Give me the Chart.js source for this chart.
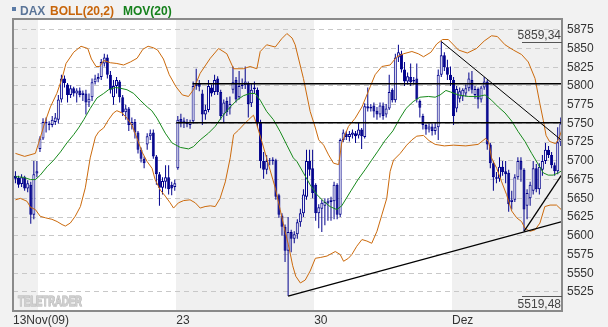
<!DOCTYPE html>
<html><head><meta charset="utf-8">
<script src="https://cdn.jsdelivr.net/npm/chart.js@4.4.1/dist/chart.umd.min.js"></script>
<style>html,body{margin:0;padding:0;background:#f2f2f2;overflow:hidden}</style>
</head><body>
<canvas id="c" width="608" height="327"></canvas>
<script>
// ---- DATA (hourly DAX candles, 13 Nov 2009 - 10 Dec 2009) ----
const opens = [5680,5677,5669,5678,5663,5668,5628,5683,
5716,5730,5752,5750,5748,5752,5755,5782,5810,
5802,5788,5797,5790,5794,5788,5790,5778,5785,
5805,5809,5812,5830,5838,5815,5785,5800,5806,
5785,5765,5770,5748,5752,5738,5715,5703,5722,
5733,5738,5706,5682,5664,5672,5678,5668,5665,
5690,5756,5751,5752,5748,5753,5800,5803,5790,
5762,5768,5798,5792,5810,5792,5762,5780,5770,
5795,5808,5785,5800,5801,5804,5777,5796,5795,
5752,5700,5688,5700,5700,5701,5654,5627,5612,
5580,5605,5596,5602,5618,5630,5652,5700,5690,
5668,5630,5636,5640,5643,5645,5646,5668,5628,
5728,5736,5732,5735,5737,5734,5742,5732,5773,
5770,5774,5767,5762,5774,5762,5770,5795,5781,
5838,5843,5822,5806,5812,5806,5810,5780,5760,
5748,5742,5746,5740,5745,5815,5841,5825,5815,
5808,5770,5783,5786,5790,5797,5808,5788,5796,
5782,5798,5806,5722,5697,5678,5676,5692,5686,
5684,5645,5648,5678,5700,5688,5640,5650,5660,
5690,5662,5688,5700,5715,5708,5694,5686,5725];
const highs = [5686,5680,5682,5680,5674,5672,5700,5700,
5733,5757,5758,5753,5760,5764,5788,5815,5814,
5804,5801,5799,5797,5798,5794,5795,5790,5810,
5815,5817,5836,5843,5842,5820,5808,5812,5808,
5788,5775,5772,5758,5756,5740,5718,5706,5737,
5742,5742,5708,5685,5678,5694,5694,5672,5675,
5760,5763,5758,5756,5755,5806,5823,5808,5795,
5775,5808,5802,5815,5813,5795,5782,5785,5786,
5826,5812,5820,5810,5826,5806,5803,5806,5798,
5755,5712,5708,5704,5705,5703,5656,5630,5615,
5625,5608,5606,5622,5636,5662,5715,5715,5715,
5670,5642,5648,5650,5650,5652,5672,5670,5730,
5742,5740,5740,5742,5740,5752,5744,5777,5798,
5776,5778,5772,5778,5778,5776,5815,5797,5843,
5855,5847,5832,5818,5830,5812,5830,5782,5763,
5750,5750,5750,5752,5822,5859.34,5845,5835,5826,
5812,5800,5798,5797,5802,5818,5820,5800,5798,
5800,5812,5808,5724,5700,5685,5705,5700,5700,
5688,5660,5682,5705,5705,5690,5662,5672,5700,
5696,5697,5708,5724,5720,5712,5698,5745,5758];
const lows = [5670,5664,5665,5660,5658,5616,5622,5678,
5712,5728,5738,5741,5745,5748,5750,5778,5798,
5778,5784,5786,5778,5785,5780,5762,5772,5780,
5802,5805,5808,5826,5810,5790,5775,5790,5778,
5760,5755,5740,5742,5730,5710,5698,5690,5715,
5728,5703,5668,5640,5655,5663,5655,5654,5660,
5688,5745,5744,5745,5743,5750,5795,5793,5748,
5755,5765,5786,5788,5788,5755,5752,5760,5762,
5790,5778,5782,5796,5796,5758,5772,5790,5745,
5690,5676,5682,5694,5695,5648,5624,5600,5565,
5519.48,5578,5590,5596,5612,5625,5648,5680,5650,
5620,5610,5605,5614,5620,5620,5622,5622,5625,
5725,5728,5726,5730,5724,5730,5716,5730,5766,
5766,5758,5755,5758,5755,5758,5768,5778,5778,
5832,5818,5800,5802,5800,5802,5778,5758,5742,
5735,5738,5734,5735,5728,5812,5820,5808,5800,
5748,5765,5778,5780,5786,5793,5790,5783,5770,
5778,5795,5715,5690,5660,5670,5672,5680,5670,
5632,5635,5645,5675,5672,5606,5622,5640,5655,
5658,5655,5680,5696,5704,5690,5680,5682,5720];
const closes = [5676,5668,5678,5663,5670,5628,5682,5686,
5730,5752,5750,5748,5755,5758,5782,5810,5804,
5788,5797,5790,5794,5788,5791,5778,5783,5805,
5810,5812,5832,5838,5815,5795,5800,5808,5785,
5765,5770,5748,5752,5738,5715,5703,5697,5733,
5737,5706,5682,5664,5673,5678,5662,5663,5670,
5755,5750,5754,5749,5752,5800,5803,5799,5762,
5768,5800,5790,5808,5792,5760,5778,5765,5776,
5805,5782,5800,5802,5806,5776,5795,5798,5752,
5700,5688,5700,5701,5702,5652,5628,5612,5580,
5605,5596,5602,5618,5630,5655,5700,5688,5657,
5630,5638,5644,5645,5646,5648,5668,5628,5728,
5738,5732,5736,5738,5733,5742,5733,5773,5770,
5772,5766,5762,5774,5760,5770,5792,5781,5838,
5845,5822,5806,5813,5805,5808,5782,5771,5748,
5742,5746,5740,5745,5815,5841,5825,5815,5808,
5760,5796,5793,5795,5797,5810,5795,5796,5782,
5798,5806,5722,5697,5678,5676,5692,5685,5682,
5642,5648,5678,5700,5688,5635,5657,5668,5690,
5662,5692,5700,5715,5708,5694,5686,5725,5750];

// Bollinger (20,2) bands and MOV(20) as [candle index, value]
const bollUpper = [[0,5710],[3,5706],[6.5,5710],[7.5,5723],[9.5,5750],[11.4,5772],[13.5,5790],[15.2,5810],[16.5,5830],[19,5845],[21.4,5853],[23.6,5850],[24.8,5836],[26.3,5826],[27.5,5826],[28.8,5834],[31,5831],[33.1,5830],[35.3,5828],[37.5,5832],[39.7,5837],[41.6,5849],[43.3,5853],[45,5851],[46.4,5848],[48.3,5836],[50.2,5815],[52.4,5799],[54.5,5788],[56.5,5786],[58.1,5795],[60.3,5817],[63.6,5837],[66.3,5850],[69,5843],[71.2,5823],[74.4,5823],[76.6,5826],[78.8,5823],[79.9,5846],[82,5855],[84.8,5852],[86.9,5863],[88.6,5870],[90.3,5864],[91.3,5855],[94,5810],[96.2,5766],[97.9,5744],[99,5728],[100.6,5721],[102.2,5708],[103.8,5697],[105.5,5695],[106.5,5724],[108.7,5746],[110.9,5757],[113.1,5772],[115.8,5799],[117.4,5815],[119.6,5826],[122.3,5828],[124.5,5839],[126.7,5843],[129.4,5846],[131.5,5843],[133.2,5839],[135.6,5845],[137.5,5856],[139.4,5862],[141.3,5862],[144.6,5848],[147.5,5844],[150.5,5850],[153,5860],[155.4,5867],[157.3,5866],[159.8,5855],[162.5,5848],[165.2,5842],[167.4,5832],[169.6,5810],[171.2,5776],[172.3,5754],[173.2,5734],[174.3,5726],[176.3,5723],[177.4,5730],[178.4,5742]];
const bollLower = [[0,5648],[1.6,5650],[3.8,5646],[4.9,5638],[6.5,5635],[8.1,5626],[9.8,5624],[11.9,5622],[13.6,5619],[15.2,5615],[16.3,5613],[17.9,5617],[19.5,5626],[21.2,5639],[22.8,5664],[24.4,5704],[26.1,5732],[27.2,5739],[28.8,5744],[30.4,5755],[32,5764],[33.1,5767],[34.8,5764],[36.4,5757],[38,5748],[39.7,5730],[41.3,5712],[43,5699],[44.6,5690],[45.6,5675],[47.3,5661],[48.9,5653],[50.5,5644],[51.6,5637],[53.2,5644],[54.9,5647],[57,5648],[58.7,5644],[60.3,5637],[61.9,5639],[63.6,5640],[65.2,5639],[66.8,5650],[68.5,5672],[70.1,5704],[71.2,5735],[72.8,5741],[74.4,5748],[76.1,5755],[77.7,5761],[78.8,5748],[80.4,5726],[82.6,5695],[84.8,5664],[86.4,5635],[88,5606],[89.1,5588],[90.5,5560],[91.5,5546],[93,5537],[94.6,5541],[96.2,5553],[97.9,5570],[99.5,5571],[101.7,5573],[104.4,5579],[106,5575],[107.1,5566],[108.7,5570],[109.8,5575],[111.4,5586],[113.1,5595],[114.7,5593],[116.3,5590],[118,5606],[119.6,5628],[121.2,5650],[122.3,5686],[123.4,5701],[125.6,5710],[127.7,5721],[129.4,5728],[131,5733],[133.2,5734],[135,5727],[137,5722],[140,5720],[143,5721],[147,5720],[151,5722],[153.5,5730],[154.5,5725],[155.4,5704],[157.1,5690],[158.7,5672],[160.3,5655],[162,5633],[163.6,5624],[165.2,5619],[166.3,5610],[168,5606],[169.6,5608],[171.2,5617],[172.8,5639],[174.5,5641],[176.6,5641],[178.4,5634]];
const mov20 = [[0,5679],[2.7,5678],[4.9,5675],[6.5,5675],[8.1,5681],[10.3,5692],[12.5,5701],[14.7,5712],[16.8,5724],[19,5735],[20.6,5744],[22.3,5755],[24.4,5770],[26.6,5784],[28.8,5790],[30.4,5795],[32.6,5798],[34.2,5797],[36.4,5795],[38.6,5790],[40.7,5781],[43,5772],[44.5,5767],[46.2,5757],[48.9,5737],[51.1,5724],[53.8,5718],[56.5,5716],[58.1,5719],[60.3,5728],[63,5737],[65.2,5746],[67.4,5759],[70.1,5772],[72.3,5781],[74.4,5787],[76.6,5790],[78.2,5790],[79.9,5781],[82,5766],[84.2,5755],[86.4,5739],[88.6,5721],[90.7,5704],[91.9,5699],[94,5684],[96.2,5668],[98.4,5655],[100.6,5646],[102.7,5639],[104.9,5635],[106.5,5640],[109.5,5660],[111.8,5675],[114.1,5688],[116.1,5700],[118.3,5713],[120.6,5727],[123.2,5740],[125.5,5757],[127.5,5770],[129.8,5779],[132,5785],[134.8,5786],[137,5785],[138.6,5788],[140.5,5794],[142,5792],[144.6,5788],[147.8,5786],[151.1,5786],[153.3,5788],[155.4,5781],[157.6,5772],[159.8,5764],[162,5753],[164.1,5739],[166.3,5726],[168.5,5710],[170.7,5695],[172.3,5684],[173.9,5681],[175.5,5681],[177.2,5684],[178.4,5687]];

// Trend lines drawn on the chart: [candle index, value]
const resistHigh = [[57.8,5803],[178.4,5803]];
const resistLow = [[52.5,5751],[178.4,5751]];
const downTrend = [[139,5859.34],[178.4,5727]];
const upTrendLong = [[89,5519.48],[178.4,5619]];
const upTrendShort = [[166,5606],[178.4,5682]];

const maxVal = 5859.34, minVal = 5519.48;
const yTicks = [5525,5550,5575,5600,5625,5650,5675,5700,5725,5750,5775,5800,5825,5850,5875];
const xTickPos = [-0.8, 52.5, 97.5, 142.5];
const xLabels = ['13Nov(09)', '23', '30', 'Dez'];
const whiteWeeks = [[7.5, 52.5], [97.5, 142.5]];
const legendItems = [['DAX', '#5b7598', 20], ['BOLL(20,2)', '#c8650a', 50], ['MOV(20)', '#15801c', 123]];

const X_MIN = -0.8, X_MAX = 178.4, Y_MIN = 5499.6, Y_MAX = 5889.4;
const NAVY = '#00008c';
const FONT = '"Liberation Sans", Arial, sans-serif';

const idx = opens.map((_, i) => i);
const pairs = a => a.map(p => ({x: p[0], y: p[1]}));

const decor = {
  id: 'decor',
  beforeDraw(chart) {
    const {ctx, chartArea: a, scales: {x}} = chart;
    ctx.save();
    ctx.fillStyle = '#f2f2f2';
    ctx.fillRect(0, 0, chart.width, chart.height);
    ctx.fillStyle = '#f0f0f0';
    ctx.fillRect(a.left, a.top, a.right - a.left, a.bottom - a.top);
    ctx.fillStyle = '#ffffff';
    whiteWeeks.forEach(([s, e]) => {
      const x0 = Math.round(x.getPixelForValue(s)), x1 = Math.round(x.getPixelForValue(e));
      ctx.fillRect(x0, a.top, x1 - x0, a.bottom - a.top);
    });
    ctx.restore();
  },
  beforeDatasetsDraw(chart) {
    const {ctx, chartArea: a} = chart;
    ctx.save();
    ctx.font = 'bold 14px ' + FONT;
    const w = ctx.measureText('TELETRADER').width;
    ctx.translate(a.left + 5, a.bottom - 5);
    ctx.scale(64 / w, 1);
    ctx.textBaseline = 'alphabetic';
    ctx.lineWidth = 1;
    ctx.strokeStyle = '#b0b0b0';
    ctx.strokeText('TELETRADER', 0, 0);
    ctx.fillStyle = '#cfcfcf';
    ctx.fillText('TELETRADER', 0, 0);
    ctx.restore();
  },
  afterDraw(chart) {
    const {ctx, chartArea: a, scales: {y}} = chart;
    ctx.save();
    // frame
    ctx.strokeStyle = '#8a8a8a';
    ctx.lineWidth = 2;
    ctx.strokeRect(a.left, a.top, a.right - a.left, a.bottom - a.top);
    // max / min markers
    ctx.lineWidth = 1;
    ctx.strokeStyle = '#555';
    ctx.fillStyle = '#444';
    ctx.font = '12px ' + FONT;
    ctx.textAlign = 'right';
    const yMaxP = Math.round(y.getPixelForValue(maxVal)) + 0.5;
    ctx.beginPath(); ctx.moveTo(a.right - 40, yMaxP); ctx.lineTo(a.right, yMaxP); ctx.stroke();
    ctx.textBaseline = 'bottom';
    ctx.fillText(maxVal.toFixed(2).replace('.', ','), a.right - 1, yMaxP - 1);
    const yMinP = Math.round(y.getPixelForValue(minVal)) + 0.5;
    ctx.beginPath(); ctx.moveTo(a.right - 40, yMinP); ctx.lineTo(a.right, yMinP); ctx.stroke();
    ctx.textBaseline = 'top';
    ctx.fillText(minVal.toFixed(2).replace('.', ','), a.right - 1, yMinP + 2);
    // legend
    ctx.fillStyle = '#5b7ba6';
    ctx.fillRect(12, 7, 4, 4);
    ctx.textAlign = 'left';
    ctx.textBaseline = 'alphabetic';
    ctx.font = 'bold 12px ' + FONT;
    legendItems.forEach(([t, c, px]) => { ctx.fillStyle = c; ctx.fillText(t, px, 15); });
    ctx.restore();
  }
};

const lineDs = (data, color, width, order) => ({
  type: 'line', data: pairs(data), borderColor: color, borderWidth: width,
  pointRadius: 0, tension: 0, fill: false, order: order
});

new Chart(document.getElementById('c'), {
  type: 'bar',
  data: {
    datasets: [
      { type: 'bar', data: idx.map(i => ({x: i, y: [lows[i], highs[i]]})),
        backgroundColor: NAVY, borderWidth: 0, barThickness: 1, grouped: false, inflateAmount: 0, order: 3 },
      { type: 'bar', data: idx.map(i => ({x: i, y: [Math.min(opens[i], closes[i]), Math.max(opens[i], closes[i])]})),
        backgroundColor: idx.map(i => closes[i] >= opens[i] ? '#ffffff' : NAVY),
        borderColor: NAVY, borderWidth: 1, borderSkipped: false, barThickness: 3, grouped: false, inflateAmount: 0, order: 2 },
      lineDs(bollUpper, '#cc6a0c', 1, 1),
      lineDs(bollLower, '#cc6a0c', 1, 1),
      lineDs(mov20, '#178a1c', 1, 1),
      lineDs(resistHigh, '#000000', 1.5, 0),
      lineDs(resistLow, '#000000', 1.5, 0),
      lineDs(downTrend, '#000000', 1, 0),
      lineDs(upTrendLong, '#000000', 1.3, 0),
      lineDs(upTrendShort, '#000000', 1.3, 0)
    ]
  },
  options: {
    responsive: false, animation: false, devicePixelRatio: 1,
    layout: { padding: { top: 19, left: 13, right: 0, bottom: 0 } },
    plugins: { legend: { display: false }, tooltip: { enabled: false } },
    scales: {
      x: {
        type: 'linear', min: X_MIN, max: X_MAX, offset: false,
        grid: { display: false, offset: false, drawTicks: false }, border: { display: false },
        afterBuildTicks: s => { s.ticks = xTickPos.map(v => ({value: v})); },
        afterFit: s => { s.height = 16; },
        ticks: { align: 'start', maxRotation: 0, autoSkip: false, padding: 2, color: '#333',
                 font: { family: FONT, size: 12 }, callback: (v, i) => xLabels[i] }
      },
      y: {
        type: 'linear', position: 'right', min: Y_MIN, max: Y_MAX, beginAtZero: false,
        grid: { color: '#c8c8c8', lineWidth: 1, drawTicks: false },
        border: { display: false, dash: [5, 4] },
        afterBuildTicks: s => { s.ticks = yTicks.map(v => ({value: v})); },
        afterFit: s => { s.width = 46; },
        ticks: { padding: 5, color: '#333', font: { family: FONT, size: 12 }, callback: v => String(v) }
      }
    }
  },
  plugins: [decor]
});
</script>
</body></html>
